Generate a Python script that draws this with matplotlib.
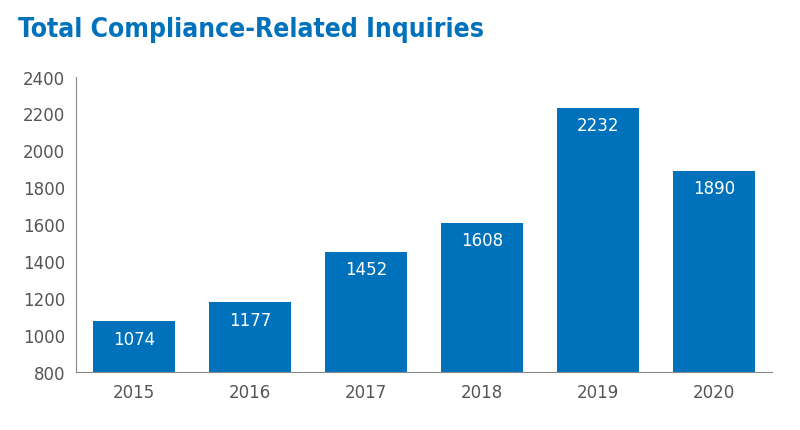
import matplotlib
matplotlib.use("Agg")
import matplotlib.pyplot as plt

years = ["2015", "2016", "2017", "2018", "2019", "2020"]
values = [1074, 1177, 1452, 1608, 2232, 1890]
yticks = [800, 1000, 1200, 1400, 1600, 1800, 2000, 2200, 2400]

fig = plt.figure(figsize=(8, 4.31), dpi=100)
ax = fig.add_axes([0.095, 0.135, 0.87, 0.685])
blue = "#0072bc"
x = range(len(years))
ax.bar(x, values, width=0.7, color=blue, bottom=0)
for i, v in zip(x, values):
    ax.text(i, v - 45, str(v), ha="center", va="top", color="white", fontsize=12)
ax.set_ylim(800, 2400)
ax.set_xlim(-0.5, 5.5)
ax.set_yticks(yticks)
ax.set_xticks(list(x))
ax.set_xticklabels(years)
ax.tick_params(labelsize=12, colors="#555555", length=0, pad=8)
for s in ["top", "right"]:
    ax.spines[s].set_visible(False)
for s in ["left", "bottom"]:
    ax.spines[s].set_color("#888888")
fig.text(0.022, 0.93, "Total Compliance-Related Inquiries", fontsize=19, fontweight="bold",
         color=blue, va="center", fontstretch="condensed")
fig.savefig("out.png")
